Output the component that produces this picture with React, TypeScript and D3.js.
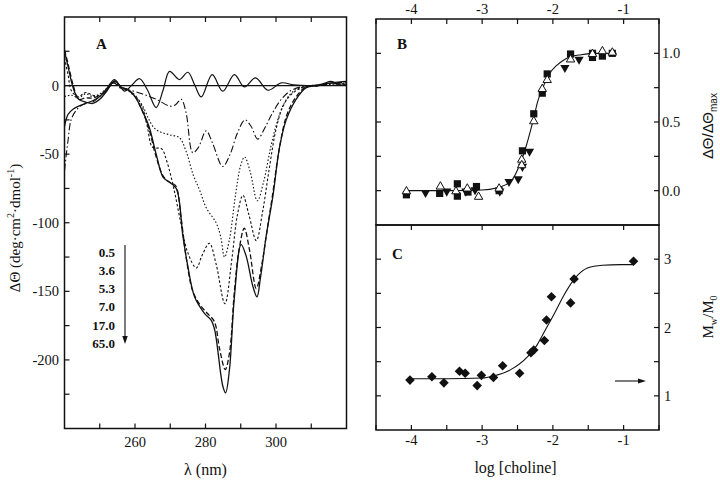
import React from 'react';
import * as d3 from 'd3';

// ---------- Panel A: CD difference spectra ----------
const legendLabels = ['0.5', '3.6', '5.3', '7.0', '17.0', '65.0'];

const spec05: [number, number][] = [
  [240, -30], [241, -21], [242.5, -17], [244, -15], [246, -13], [248, -11], [250, -8], [252, -2],
  [254.2, 4.4], [257, -4], [259, 0], [261.3, 5], [263.5, -3], [266, -16], [268, -3], [269.8, 10.4],
  [272.6, 4.4], [275, 9.7], [277, 0], [278.8, -8.3], [281.9, 8], [284.9, -4.1], [288.2, 8], [291, -1],
  [294.2, 5.6], [297.7, -3.4], [301.5, 2], [305, 0.5], [310, 0], [313, 1], [315.7, 3], [318, 0.5], [320, 1],
];
const spec36: [number, number][] = [
  [240, -62], [241, -40], [242, -24], [244, -16], [246, -13], [248, -12], [250, -8], [252, -3], [254, 2],
  [256, -2], [258, -3], [262, -6], [266, -10], [270, -15], [271.5, -14], [273.1, -10], [274.5, -20],
  [276.4, -49], [278, -45], [280.2, -33], [282, -42], [284.9, -59], [287, -50], [289, -35], [291.2, -25],
  [293, -30], [294.8, -39], [297, -30], [299, -20], [301.5, -10], [304, -4], [307, -1], [310, 0], [315, 1], [320, 2],
];
const spec53: [number, number][] = [
  [240, -8], [242, -7], [244, -9], [246, -6], [248, -8], [250, -6], [252, -2], [254, 2], [256, -2], [258, -4],
  [260, -8], [262, -14], [264, -25], [265.5, -31], [267.4, -34], [270, -36], [272.6, -38], [274.5, -48],
  [276.5, -65], [278.3, -76], [280.2, -89], [283, -100], [284.3, -110], [285.4, -125], [286.8, -112],
  [288.5, -80], [290, -58], [291.1, -52], [292.7, -63], [294.7, -84], [296.5, -70], [298.5, -45],
  [300.5, -25], [302.5, -12], [305, -4], [308, -1], [312, 0], [316, 1], [320, 1],
];
const spec70: [number, number][] = [
  [240, 20], [241, 8], [242, -4], [244, -8], [246, -5], [248, -7], [250, -7], [252, -3], [254, 3], [256, -1],
  [258, -3], [260, -7], [262, -15], [263.5, -30], [265, -45], [267.5, -46], [269, -55], [271, -75], [273, -100],
  [275, -122], [277.4, -133], [279, -124], [281.1, -115], [283, -130], [285.5, -159], [287.5, -126],
  [289, -95], [290.6, -80], [292.3, -94], [294.4, -113], [296.2, -92], [298, -62], [300, -32], [302, -15],
  [304.5, -6], [308, -1], [312, 0], [316, 2], [320, 1],
];
const spec170: [number, number][] = [
  [240, 26], [241, 16], [242.5, 0], [244, -10], [246, -9], [248, -9], [250, -7], [252, -3], [254.2, 3],
  [256, -1], [258, -3], [260, -8], [262, -18], [264, -32], [266, -52], [268, -66], [269.5, -70], [271.5, -73],
  [273, -95], [274.5, -125], [276.4, -150], [278.5, -160], [280.5, -166], [282.5, -172], [284, -192],
  [285.6, -207], [286.8, -195], [288.2, -150], [289.5, -120], [291, -104], [292.5, -120], [294.4, -148],
  [296, -130], [297.5, -105], [299, -80], [301, -45], [303, -22], [305.5, -9], [308.5, -1], [312, 0],
  [316, 2], [320, 2],
];
const spec650: [number, number][] = [
  [240, 25], [241, 14], [242.5, -2], [244, -10], [246, -12], [248, -13], [250, -10], [252, -4], [254.2, 3.5],
  [256, -1], [258, -3], [260, -8], [262, -18], [264, -30], [266, -50], [268, -67], [269.5, -70], [271.7, -75],
  [273.6, -110], [275, -132], [276.9, -154], [279.7, -166], [281.6, -171], [282.6, -178], [284.9, -219],
  [285.7, -224], [286.8, -207], [288.2, -154], [290.1, -116], [291.5, -124], [293.4, -146], [294.6, -154],
  [295.6, -140], [297.2, -110], [299.1, -81], [301, -45], [302.9, -25], [305.7, -10], [308.6, -1.5],
  [312, 0], [316, 2], [320, 3],
];
const spectra = [spec05, spec36, spec53, spec70, spec170, spec650];
const specDash = ['none', '7,2.5,1.5,2.5', '1.5,2', '2.5,2', '5,2.5', 'none'];
const specWidth = [1.2, 1.1, 1.1, 1.1, 1.3, 1.3];

const xTicksA = [250, 260, 270, 280, 290, 300, 310];
const xLabelsA = [260, 280, 300];
const yTicksA = [25, 0, -25, -50, -75, -100, -125, -150, -175, -200, -225];
const yLabelsA = [0, -50, -100, -150, -200];

// ---------- Panel B: normalized CD change ----------
const bSquares: [number, number][] = [
  [-4.07, -0.03], [-3.6, -0.02], [-3.35, 0.05], [-3.35, -0.04], [-3.2, -0.01], [-3.08, 0.03],
  [-2.76, 0.0], [-2.43, 0.29], [-2.27, 0.56], [-2.15, 0.71], [-2.08, 0.85], [-1.75, 0.995],
  [-1.44, 0.97], [-1.44, 1.0], [-1.3, 0.98], [-1.16, 1.0],
];
const bTriangles: [number, number][] = [
  [-4.07, 0.0], [-3.59, 0.035], [-3.37, 0.0], [-3.21, 0.02], [-3.05, -0.04], [-2.76, 0.02],
  [-2.44, 0.23], [-2.44, 0.19], [-2.27, 0.51], [-2.15, 0.745], [-2.08, 0.81], [-1.75, 0.96],
  [-1.44, 1.0], [-1.3, 1.02], [-1.16, 1.01],
];
const bDownTriangles: [number, number][] = [
  [-3.8, -0.02], [-3.5, -0.01], [-3.23, -0.01], [-3.1, 0.0], [-2.75, -0.01], [-2.62, 0.06],
  [-2.49, 0.08], [-2.43, 0.17], [-2.33, 0.28], [-1.83, 0.89], [-1.63, 0.95],
];
const bFit: [number, number][] = [
  [-4.05, 0], [-3.5, 0], [-3.0, 0.005], [-2.8, 0.02], [-2.6, 0.065], [-2.46, 0.2], [-2.38, 0.32],
  [-2.32, 0.43], [-2.27, 0.53], [-2.22, 0.64], [-2.15, 0.74], [-2.05, 0.85], [-1.95, 0.91],
  [-1.85, 0.95], [-1.75, 0.975], [-1.6, 0.99], [-1.4, 1.0], [-1.1, 1.0],
];
const xTicksBC = [-4.5, -4, -3.5, -3, -2.5, -2, -1.5, -1, -0.5];
const xLabelsBC = [-4, -3, -2, -1];
const yTicksB = [0, 0.25, 0.5, 0.75, 1.0];
const yLabelsB = ['0.0', '0.5', '1.0'];

// ---------- Panel C: Mw/M0 ----------
const cDiamonds: [number, number][] = [
  [-4.02, 1.23], [-3.71, 1.28], [-3.54, 1.19], [-3.32, 1.36], [-3.24, 1.33], [-3.07, 1.15],
  [-3.01, 1.3], [-2.84, 1.27], [-2.71, 1.44], [-2.47, 1.33], [-2.31, 1.63], [-2.27, 1.67],
  [-2.12, 1.81], [-2.09, 2.11], [-2.02, 2.45], [-1.75, 2.36], [-1.7, 2.71], [-0.86, 2.97],
];
const cFit: [number, number][] = [
  [-4.02, 1.25], [-3.5, 1.25], [-3.0, 1.26], [-2.84, 1.29], [-2.6, 1.38], [-2.36, 1.57], [-2.22, 1.75],
  [-2.13, 1.92], [-1.98, 2.2], [-1.84, 2.48], [-1.68, 2.73], [-1.51, 2.87], [-1.3, 2.91], [-1.05, 2.92],
  [-0.86, 2.92],
];
const yTicksC = [1, 1.5, 2, 2.5, 3];
const yLabelsC = [1, 2, 3];

const SERIF = '"Liberation Serif", "Times New Roman", serif';
const SANS = '"Liberation Sans", Arial, sans-serif';
const INK = '#111';

export default function App() {
  const xA = d3.scaleLinear().domain([240, 320]).range([64.5, 346.5]);
  const yA = d3.scaleLinear().domain([-250, 50]).range([428.5, 17]);
  const xB = d3.scaleLinear().domain([-4.5, -0.5]).range([376, 659]);
  const yB = d3.scaleLinear().domain([-0.25, 1.25]).range([225, 19]);
  const yC = d3.scaleLinear().domain([0.5, 3.5]).range([430, 225]);

  const lineA = d3.line<[number, number]>().x(d => xA(d[0])).y(d => yA(d[1])).curve(d3.curveCatmullRom.alpha(0.5));
  const lineB = d3.line<[number, number]>().x(d => xB(d[0])).y(d => yB(d[1])).curve(d3.curveMonotoneX);
  const lineC = d3.line<[number, number]>().x(d => xB(d[0])).y(d => yC(d[1])).curve(d3.curveMonotoneX);

  const [ax0, ax1] = xA.range();
  const [ay0, ay1] = [yA.range()[1], yA.range()[0]];
  const [bx0, bx1] = xB.range();
  const bTop = yB.range()[1];
  const mid = yB.range()[0];
  const cBot = yC.range()[0];
  const tk = 5;

  const sq = 3.6;
  const tri = (x: number, y: number, up: boolean, s = 4.6) =>
    up
      ? `M${x},${y - s}L${x + s},${y + s * 0.75}L${x - s},${y + s * 0.75}Z`
      : `M${x},${y + s}L${x + s},${y - s * 0.75}L${x - s},${y - s * 0.75}Z`;
  const diamond = (x: number, y: number, s = 4.8) => `M${x},${y - s}L${x + s},${y}L${x},${y + s}L${x - s},${y}Z`;

  return (
    <svg width={720} height={482} style={{ position: 'absolute', left: 0, top: 0, background: '#fff' }}
      fontFamily={SERIF}>
      <defs>
        <clipPath id="clipA"><rect x={ax0} y={ay0} width={ax1 - ax0} height={ay1 - ay0} /></clipPath>
      </defs>
      {/* ===== Panel A ===== */}
      <g clipPath="url(#clipA)">
        <line x1={ax0} x2={ax1} y1={yA(0)} y2={yA(0)} stroke={INK} strokeWidth={1.3} />
        {spectra.map((s, i) => (
          <path key={i} d={lineA(s) || ''} fill="none" stroke={INK} strokeWidth={specWidth[i]}
            strokeDasharray={specDash[i]} />
        ))}
      </g>
      <rect x={ax0} y={ay0} width={ax1 - ax0} height={ay1 - ay0} fill="none" stroke={INK} strokeWidth={1.5} />
      {xTicksA.map(t => (
        <g key={t}>
          <line x1={xA(t)} x2={xA(t)} y1={ay1} y2={ay1 - tk} stroke={INK} strokeWidth={1.2} />
          <line x1={xA(t)} x2={xA(t)} y1={ay0} y2={ay0 + tk} stroke={INK} strokeWidth={1.2} />
        </g>
      ))}
      {xLabelsA.map(t => (
        <text key={t} x={xA(t)} y={447} fontSize={14.5} textAnchor="middle" fill={INK}>{t}</text>
      ))}
      {yTicksA.map(t => (
        <line key={t} x1={ax0} x2={ax0 + tk} y1={yA(t)} y2={yA(t)} stroke={INK} strokeWidth={1.2} />
      ))}
      {yLabelsA.map(t => (
        <text key={t} x={59} y={yA(t)} dy="0.35em" fontSize={14.5} textAnchor="end" fill={INK}>{t}</text>
      ))}
      <text x={(ax0 + ax1) / 2} y={475} fontSize={16} textAnchor="middle" fill={INK}>λ  (nm)</text>
      <text transform={`translate(20,228) rotate(-90)`} fontSize={15} textAnchor="middle" fill={INK}>
        ΔΘ  (deg·cm<tspan dy={-6} fontSize={10}>2</tspan><tspan dy={6}>·dmol</tspan>
        <tspan dy={-6} fontSize={10}>-1</tspan><tspan dy={6}>)</tspan>
      </text>
      <text x={96} y={49} fontSize={15} fontWeight="bold" fill={INK}>A</text>
      {legendLabels.map((l, i) => (
        <text key={l} x={115} y={256.5 + i * 18.3} fontSize={13} fontWeight="bold" textAnchor="end" fill={INK}>{l}</text>
      ))}
      <line x1={125} x2={125} y1={245} y2={338} stroke={INK} strokeWidth={1.1} />
      <path d="M122.3,336 L127.7,336 L125,344 Z" fill={INK} />

      {/* ===== Panel B ===== */}
      <path d={lineB(bFit) || ''} fill="none" stroke={INK} strokeWidth={1.1} />
      {bSquares.map((d, i) => (
        <rect key={'s' + i} x={xB(d[0]) - sq} y={yB(d[1]) - sq} width={sq * 2} height={sq * 2} fill={INK} />
      ))}
      {bDownTriangles.map((d, i) => (
        <path key={'d' + i} d={tri(xB(d[0]), yB(d[1]), false)} fill={INK} />
      ))}
      {bTriangles.map((d, i) => (
        <path key={'t' + i} d={tri(xB(d[0]), yB(d[1]), true, 4.2)} fill="#fff" stroke={INK} strokeWidth={1} />
      ))}
      <rect x={bx0} y={bTop} width={bx1 - bx0} height={mid - bTop} fill="none" stroke={INK} strokeWidth={1.5} />
      {xTicksBC.map(t => (
        <line key={t} x1={xB(t)} x2={xB(t)} y1={bTop} y2={bTop + tk} stroke={INK} strokeWidth={1.2} />
      ))}
      {xLabelsBC.map(t => (
        <text key={t} x={xB(t)} y={13.5} fontSize={14.5} textAnchor="middle" fill={INK}>{t}</text>
      ))}
      {yTicksB.map(t => (
        <g key={t}>
          <line x1={bx0} x2={bx0 + tk} y1={yB(t)} y2={yB(t)} stroke={INK} strokeWidth={1.2} />
          <line x1={bx1} x2={bx1 - tk} y1={yB(t)} y2={yB(t)} stroke={INK} strokeWidth={1.2} />
        </g>
      ))}
      {yLabelsB.map(t => (
        <text key={t} x={662} y={yB(+t)} dy="0.35em" fontSize={14.5} fill={INK}>{t}</text>
      ))}
      <text transform={`translate(713,126) rotate(-90)`} fontSize={15} textAnchor="middle" fontFamily={SANS} fill={INK}>
        ΔΘ/ΔΘ<tspan dy={4} fontSize={10}>max</tspan>
      </text>
      <text x={397} y={49} fontSize={15} fontWeight="bold" fill={INK}>B</text>

      {/* ===== Panel C ===== */}
      <path d={lineC(cFit) || ''} fill="none" stroke={INK} strokeWidth={1.1} />
      {cDiamonds.map((d, i) => (
        <path key={'c' + i} d={diamond(xB(d[0]), yC(d[1]))} fill={INK} />
      ))}
      <rect x={bx0} y={mid} width={bx1 - bx0} height={cBot - mid} fill="none" stroke={INK} strokeWidth={1.5} />
      {xLabelsBC.map(t => (
        <line key={'m' + t} x1={xB(t)} x2={xB(t)} y1={mid} y2={mid + tk} stroke={INK} strokeWidth={1.2} />
      ))}
      {xTicksBC.map(t => (
        <line key={t} x1={xB(t)} x2={xB(t)} y1={cBot} y2={cBot - tk} stroke={INK} strokeWidth={1.2} />
      ))}
      {xLabelsBC.map(t => (
        <text key={t} x={xB(t)} y={445} fontSize={14.5} textAnchor="middle" fill={INK}>{t}</text>
      ))}
      {yTicksC.map(t => (
        <g key={t}>
          <line x1={bx0} x2={bx0 + tk} y1={yC(t)} y2={yC(t)} stroke={INK} strokeWidth={1.2} />
          <line x1={bx1} x2={bx1 - tk} y1={yC(t)} y2={yC(t)} stroke={INK} strokeWidth={1.2} />
        </g>
      ))}
      {yLabelsC.map(t => (
        <text key={t} x={664} y={yC(t)} dy="0.35em" fontSize={14.5} fill={INK}>{t}</text>
      ))}
      <text x={(bx0 + bx1) / 2 - 2} y={473} fontSize={16} textAnchor="middle" fill={INK}>log [choline]</text>
      <text transform={`translate(713,317) rotate(-90)`} fontSize={15} textAnchor="middle" fill={INK}>
        M<tspan dy={4} fontSize={10}>w</tspan><tspan dy={-4}>/M</tspan><tspan dy={4} fontSize={10}>0</tspan>
      </text>
      <text x={392} y={259} fontSize={15} fontWeight="bold" fill={INK}>C</text>
      <line x1={615} x2={640} y1={381} y2={381} stroke={INK} strokeWidth={1.1} />
      <path d="M638,378.6 L646,381 L638,383.4 Z" fill={INK} />
    </svg>
  );
}
